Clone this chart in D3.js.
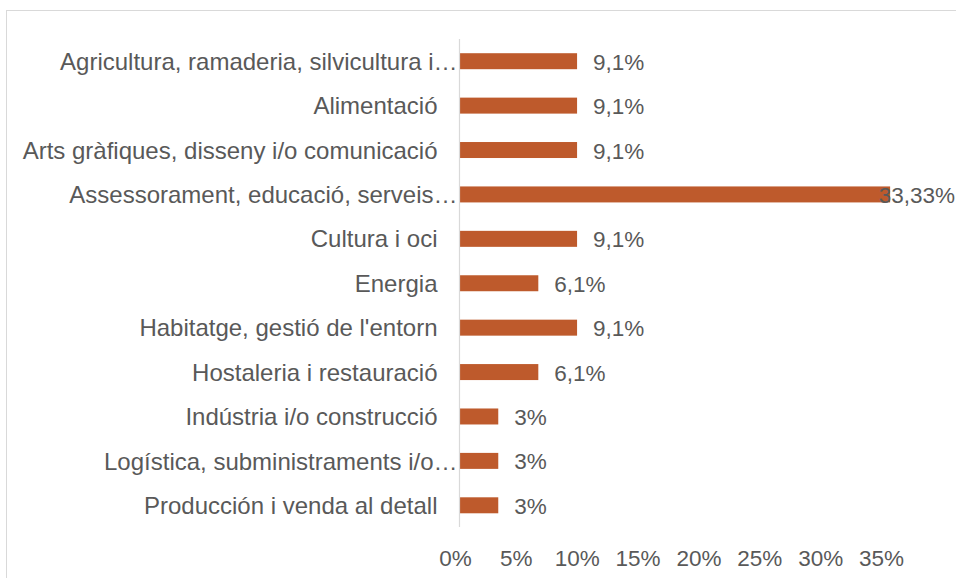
<html>
<head>
<meta charset="utf-8">
<style>
  body { margin: 0; background: #fff; }
  svg { display: block; font-family: 'Liberation Sans', Arial, sans-serif; }
</style>
</head>
<body>
<div id="chart"></div>
<script src="https://cdnjs.cloudflare.com/ajax/libs/d3/7.8.5/d3.min.js"></script>
<script>
// data
const categories = [
  "Agricultura, ramaderia, silvicultura i…",
  "Alimentació",
  "Arts gràfiques, disseny i/o comunicació",
  "Assessorament, educació, serveis…",
  "Cultura i oci",
  "Energia",
  "Habitatge, gestió de l'entorn",
  "Hostaleria i restauració",
  "Indústria i/o construcció",
  "Logística, subministraments i/o…",
  "Producción i venda al detall"
]
const values = [9.1, 9.1, 9.1, 33.33, 9.1, 6.1, 9.1, 6.1, 3, 3, 3]
const tickValues = [0, 5, 10, 15, 20, 25, 30, 35]

const W = 956, H = 578
const textColor = '#595959'
const fontSize = 22.5

const svg = d3.select('#chart').append('svg')
  .attr('width', W)
  .attr('height', H)

// chart frame (right / bottom edges fall outside the picture)
svg.append('rect')
  .attr('x', 6.5).attr('y', 10.5)
  .attr('width', W + 10).attr('height', H + 10)
  .attr('fill', 'none')
  .attr('stroke', '#d9d9d9')

// scales
const x = d3.scaleLinear().domain([0, 35]).range([459.5, 911.7])
// the axis labels in the source sit a bit tighter than the bars
const xLabels = d3.scaleLinear().domain([0, 35]).range([455, 881])
const y = d3.scaleBand().domain(categories).range([39, 527.5]).paddingInner(0.64).paddingOuter(0.32)

// bars
svg.selectAll('rect.bar')
  .data(values)
  .join('rect')
  .attr('class', 'bar')
  .attr('x', x(0))
  .attr('y', (d, i) => y(categories[i]))
  .attr('width', d => x(d) - x(0))
  .attr('height', y.bandwidth())
  .attr('fill', '#be5a2c')

// vertical axis line
svg.append('line')
  .attr('x1', 459.5).attr('x2', 459.5)
  .attr('y1', 39).attr('y2', 527)
  .attr('stroke', '#d9d9d9')
  .attr('stroke-width', 1.2)

// category labels
svg.selectAll('text.cat')
  .data(categories)
  .join('text')
  .attr('class', 'cat')
  .attr('x', d => d.endsWith('…') ? x(0) - 2 : x(0) - 22)
  .attr('y', d => y(d) + y.bandwidth() / 2)
  .attr('dy', '0.36em')
  .attr('text-anchor', 'end')
  .attr('fill', textColor)
  .attr('font-size', 24)
  .text(d => d)

// value labels
svg.selectAll('text.val')
  .data(values)
  .join('text')
  .attr('class', 'val')
  .attr('x', d => x(d) + 16)
  .attr('y', (d, i) => y(categories[i]) + y.bandwidth() / 2)
  .attr('dy', '0.38em')
  .attr('fill', textColor)
  .attr('font-size', fontSize)
  .text(d => String(d).replace('.', ',') + '%')
  .each(function () {
    // keep the label inside the chart area, like the source does
    const len = this.getComputedTextLength()
    const xx = +d3.select(this).attr('x')
    if (xx + len > W - 1) d3.select(this).attr('x', W - 1 - len)
  })

// x axis labels
const xAxis = d3.axisBottom(xLabels)
  .tickValues(tickValues)
  .tickFormat(d => d + '%')
  .tickSize(0)
  .tickPadding(0)

const gx = svg.append('g')
  .attr('transform', 'translate(0,548)')
  .call(xAxis)
gx.select('.domain').remove()
gx.selectAll('text')
  .attr('fill', textColor)
  .attr('font-size', fontSize)
  .attr('font-family', "'Liberation Sans', Arial, sans-serif")
  .attr('dy', '0.78em')
</script>
</body>
</html>
